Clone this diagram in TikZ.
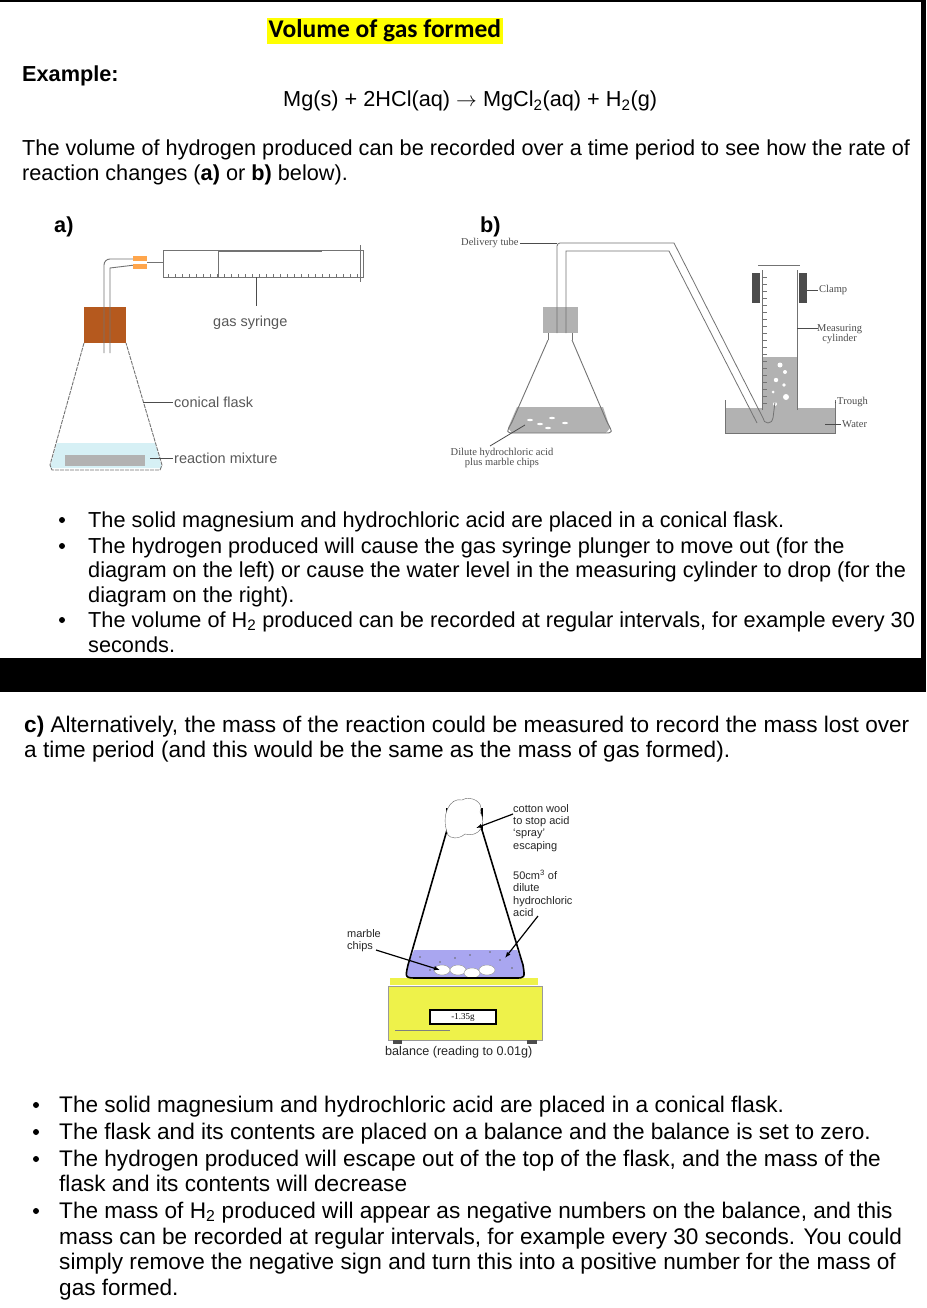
\documentclass[tikz,border=0pt]{standalone}
\usepackage{fontspec}
\setmainfont{Liberation Sans}
\newfontfamily\calfont{Carlito}
\newfontfamily\serfont{Liberation Serif}
\usetikzlibrary{arrows.meta}
\definecolor{hl}{HTML}{FFFF00}
\definecolor{cork}{HTML}{B5591E}
\definecolor{ltblue}{HTML}{D6F0F5}
\definecolor{lav}{HTML}{A9A6F0}
\definecolor{bal}{HTML}{EEF24A}
\tikzset{
 txt/.style={anchor=base west,inner sep=0pt,font=\fontsize{21.7}{24}\selectfont},
 txtb/.style={anchor=base west,inner sep=0pt,font=\fontsize{22.6}{24}\selectfont},
 lab/.style={anchor=west,inner sep=1pt,font=\fontsize{14.5}{16}\selectfont,text=black!65},
 slab/.style={anchor=west,inner sep=1pt,font=\serfont\fontsize{10.5}{10.5}\selectfont,text=black!70,align=left},
 clab/.style={anchor=north west,inner sep=0pt,font=\fontsize{11}{12.3}\selectfont,align=left,text=black!85},
 glass/.style={draw=black!55,line width=0.9pt},
 lead/.style={draw=black!70,line width=0.8pt}
}
\begin{document}
\begin{tikzpicture}[x=1pt,y=-1pt]
\useasboundingbox (0,0) rectangle (926,1308);
\fill[white] (0,0) rectangle (926,1308);
\fill[black] (921,0) rectangle (926,658);
\fill[black] (0,658) rectangle (926,692);
\fill[black] (0,0) rectangle (926,2);
% title
\node[fill=hl,inner sep=1.5pt,anchor=west,font=\calfont\bfseries\fontsize{25.5}{26}\selectfont] (title) at (267,31) {Volume of gas formed};
\node[txt,font=\bfseries\fontsize{21.7}{24}\selectfont] (ex) at (22,82) {Example:};
\node[txt] (eq) at (283,107) {Mg(s) + 2HCl(aq) $\rightarrow$ MgCl\textsubscript{2}(aq) + H\textsubscript{2}(g)};
\node[txt] (p1) at (22,156) {The volume of hydrogen produced can be recorded over a time period to see how the rate of};
\node[txt] (p2) at (22,181) {reaction changes (\textbf{a)} or \textbf{b)} below).};
\node[txt,font=\bfseries\fontsize{21.7}{24}\selectfont] (la) at (54,232) {a)};
\node[txt,font=\bfseries\fontsize{21.7}{24}\selectfont] (lb) at (480,232) {b)};
% ---------- diagram a
\fill[ltblue] (57,443) -- (155,443) -- (162,468) -- (50,468) -- cycle;
\fill[black!30] (65,455) rectangle (145,466);
\draw[glass,dash pattern=on 4pt off 1pt] (84,343) -- (50,465) -- (52,470) -- (160,470) -- (162,465) -- (126,343);
\fill[cork] (84,307) rectangle (126,343);
\draw[glass] (104,353) -- (104,265) arc (180:270:6) -- (135,259);
\draw[glass] (110,353) -- (110,268) -- (135,265);
\fill[orange!70] (133,256) rectangle (147,261);
\fill[orange!70] (133,264) rectangle (147,269);
\draw[glass] (147,262) -- (163,262);
\draw[glass] (163,250) rectangle (363,277);
\draw[glass] (218,250) -- (218,277);
\draw[glass] (218,251) -- (322,251);
\draw[glass] (360,245) -- (360,282);
\foreach \i in {0,...,27} \draw[black!55] (168+\i*7,277) -- (168+\i*7,274);
\node[lab] (gs) at (212,323) {gas syringe};
\draw[lead] (256,277) -- (256,306);
\node[lab] (cf) at (173,402) {conical flask};
\draw[lead] (143,402) -- (cf.west);
\node[lab] (rm) at (173,458) {reaction mixture};
\draw[lead] (150,458) -- (rm.west);
% ---------- diagram b
\fill[black!30] (517,407) -- (603,407) -- (610,428) -- (606,433) -- (512,433) -- (508,428) -- cycle;
\draw[glass] (548,340) -- (512,422) .. controls (506,433) .. (515,433) -- (604,433) .. controls (613,433) .. (607,422) -- (572,340);
\fill[black!30] (543,307) rectangle (578,333);
\draw[glass] (548,333) -- (548,340); \draw[glass] (572,333) -- (572,340);
\foreach \p in {(530,420),(540,424),(552,418),(565,423),(548,428)} \fill[white] \p ellipse (3pt and 1.2pt);
% trough
\fill[black!30] (725,408) rectangle (835,433);
\fill[black!30] (762,357) rectangle (797,408);
\draw[glass] (725,400) -- (725,433) -- (835,433) -- (835,400);
\draw[glass] (762,270) -- (762,410); \draw[glass] (797,270) -- (797,410);
\draw[glass] (758,265) -- (800,265);
\fill[black!70] (752,273) rectangle (760,303);
\fill[black!70] (799,273) rectangle (807,303);
\foreach \i in {0,...,18} \draw[black!55] (763,277+\i*7) -- (767,277+\i*7);
\foreach \p/\r in {(780,365)/2.5,(785,372)/2,(776,380)/2.2,(784,385)/1.8,(786,397)/3,(773,392)/1.5,(775,404)/2}
 \fill[white] \p circle (\r pt);
% delivery tube
\draw[glass,line width=0.8pt] (557,333) -- (557,246) arc (180:270:3) -- (674,243) -- (763,418) arc (180:0:5) -- (775,402);
\draw[glass,line width=0.8pt] (566,333) -- (566,251) -- (669,251) -- (757,423);
\node[slab] (dt) at (460,243) {Delivery tube};
\draw[lead] (dt.east) -- (557,243);
\node[slab] (cl) at (818,290) {Clamp};
\draw[lead] (807,290) -- (cl.west);
\node[slab,align=center] (mc) at (816,334) {Measuring\\cylinder};
\draw[lead] (797,328) -- (818,328);
\node[slab] (tr) at (836,402) {Trough};
\draw[lead] (835,402) -- (tr.west);
\node[slab] (wa) at (841,424) {Water};
\draw[lead] (825,424) -- (wa.west);
\node[slab,align=center,anchor=north] (da) at (502,447) {Dilute hydrochloric acid\\plus marble chips};
\draw[lead] (490,446) -- (525,425);
% bullets 1
\foreach \y in {520,546,620} \fill[black] (62,\y) circle (3pt);
\node[txt] (b1) at (88,527) {The solid magnesium and hydrochloric acid are placed in a conical flask.};
\node[txt] (b2) at (88,553) {The hydrogen produced will cause the gas syringe plunger to move out (for the};
\node[txt] (b3) at (88,577) {diagram on the left) or cause the water level in the measuring cylinder to drop (for the};
\node[txt] (b4) at (88,602) {diagram on the right).};
\node[txt] (b5) at (88,627) {The volume of H\textsubscript{2} produced can be recorded at regular intervals, for example every 30};
\node[txt] (b6) at (88,652) {seconds.};
% c paragraph
\node[txtb] (c1) at (24,732) {\textbf{c)} Alternatively, the mass of the reaction could be measured to record the mass lost over};
\node[txtb] (c2) at (24,757) {a time period (and this would be the same as the mass of gas formed).};
% ---------- diagram c
\fill[bal] (390,978) rectangle (538,985);
\fill[bal,draw=black!40] (388,986) rectangle (542,1040);
\fill[black!70] (393,1040) rectangle (402,1044); \fill[black!70] (527,1040) rectangle (537,1044);
\draw[black!50] (395,1030) -- (450,1030);
\node[draw=black,line width=1.2pt,fill=white,minimum width=66pt,minimum height=14pt,inner sep=0pt,font=\serfont\fontsize{9}{9}\selectfont] (disp) at (463,1017) {-1.35g};
\fill[lav] (414,950) -- (517,950) -- (523,965) .. controls (525,978) .. (515,978) -- (418,978) .. controls (405,978) .. (408,965) -- cycle;
\foreach \p in {(420,957),(440,962),(470,955),(500,960),(512,968),(430,970),(455,958),(490,952)} \fill[black!60] \p circle (0.8pt);
\foreach \p in {(442,970),(458,970),(472,973),(487,970)} \fill[white,draw=black!40] \p ellipse (8pt and 5pt);
\draw[black,line width=1.6pt] (447,830) -- (408,965) .. controls (405,978) .. (418,978) -- (515,978) .. controls (525,978) .. (523,965) -- (482,830);
\draw[black,line width=1.6pt] (447,830) -- (447,808); \draw[black,line width=1.6pt] (482,830) -- (482,808);
\draw[black!60,fill=white] (448,835) .. controls (440,815) and (450,797) .. (462,800) .. controls (470,795) and (485,802) .. (480,812) .. controls (488,825) and (478,838) .. (465,834) .. controls (458,840) and (450,838) .. (448,835);
\node[clab] (cw) at (513,804) {cotton wool\\to stop acid\\`spray'\\escaping};
\draw[-{Latex[length=6pt]},line width=1.2pt] (513,814) -- (476,828);
\node[clab] (ac) at (513,870) {50cm\textsuperscript{3} of\\dilute\\hydrochloric\\acid};
\draw[-{Latex[length=6pt]},line width=1.2pt] (538,916) -- (505,958);
\node[clab] (mb) at (347,929) {marble\\chips};
\draw[-{Latex[length=6pt]},line width=1.2pt] (376,950) -- (440,970);
\node[clab,anchor=base west,font=\fontsize{12.6}{13}\selectfont] (bl) at (385,1055) {balance (reading to 0.01g)};
% bullets 2
\foreach \y in {1105,1132,1159,1211} \fill[black] (36,\y) circle (3pt);
\node[txtb] (d1) at (59,1112) {The solid magnesium and hydrochloric acid are placed in a conical flask.};
\node[txtb] (d2) at (59,1139) {The flask and its contents are placed on a balance and the balance is set to zero.};
\node[txtb] (d3) at (59,1166) {The hydrogen produced will escape out of the top of the flask, and the mass of the};
\node[txtb] (d4) at (59,1191) {flask and its contents will decrease};
\node[txtb] (d5) at (59,1218) {The mass of H\textsubscript{2} produced will appear as negative numbers on the balance, and this};
\node[txtb] (d6) at (59,1244) {mass can be recorded at regular intervals, for example every 30 seconds. You could};
\node[txtb] (d7) at (59,1269) {simply remove the negative sign and turn this into a positive number for the mass of};
\node[txtb] (d8) at (59,1295) {gas formed.};
\end{tikzpicture}
\end{document}
